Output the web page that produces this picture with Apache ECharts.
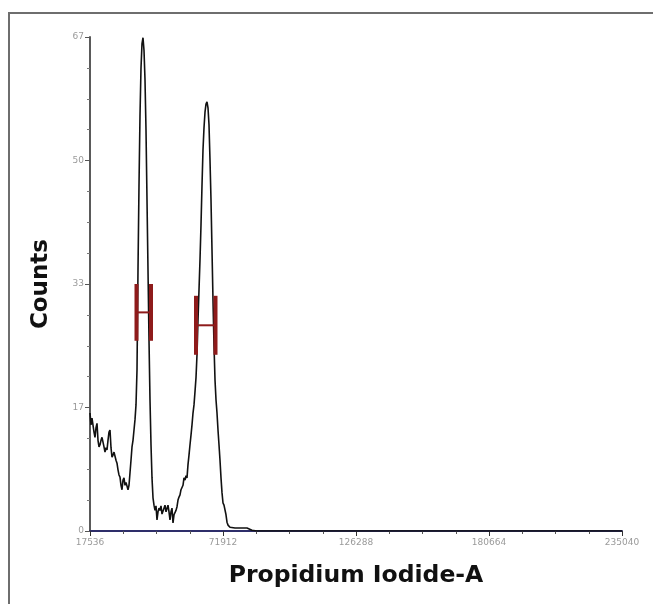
<!DOCTYPE html>
<html>
<head>
<meta charset="utf-8">
<script src="https://cdn.jsdelivr.net/npm/echarts@6/dist/echarts.min.js"></script>
<style>
html,body{margin:0;padding:0;background:#fff;}
#chart{width:653px;height:604px;}
</style>
</head>
<body>
<div id="chart"></div>
<script>
// ---- data ----
const xValues = [
 17536,17945,18354,18763,19172,19580,19989,20398,20807,21216,
 21624,22033,22442,22851,23260,23669,24077,24486,24895,25304,
 25713,26122,26530,26939,27348,27757,28166,28575,28984,29392,
 29801,30210,30619,31028,31437,31845,32254,32663,33072,33481,
 33890,34298,34707,35116,35525,35934,36343,36751,37160,37569,
 37978,38387,38796,39205,39613,40022,40431,40840,41249,41658,
 42066,42475,42884,43293,43702,44111,44519,44928,45337,45746,
 46155,46564,46972,47381,47790,48199,48608,49017,49426,49834,
 50243,50652,51061,51470,51879,52287,52696,53105,53514,53923,
 54332,54740,55149,55558,55967,56376,56785,57193,57602,58011,
 58420,58829,59238,59647,60055,60464,60873,61282,61691,62100,
 62508,62917,63326,63735,64144,64553,64961,65370,65779,66188,
 66597,67006,67414,67823,68232,68641,69050,69459,69868,70276,
 70685,71094,71503,71912,72321,72729,73138,73547,73956,74774,
 76818,78862,81724,83768,85812,235040
];
const counts = [
 16.0,14.4,15.3,15.1,13.4,12.7,14.0,14.6,12.3,11.4,
 11.7,12.3,12.7,12.7,11.4,10.7,11.3,11.0,12.3,13.4,
 13.7,11.3,10.0,10.3,10.7,10.6,9.6,9.2,8.3,7.6,
 7.3,6.2,5.6,6.9,7.2,6.2,6.6,6.5,5.6,6.2,
 7.9,9.6,11.4,12.3,13.7,15.1,17.1,21.8,35.4,46.9,
 56.4,62.8,66.1,66.9,65.2,61.2,54.4,44.9,35.4,25.9,
 17.8,11.7,7.2,4.5,3.5,2.8,3.4,1.5,2.6,3.1,
 2.8,3.4,2.3,2.2,3.1,3.5,2.6,2.8,3.5,2.6,
 1.5,2.6,3.1,1.1,2.2,2.2,2.8,3.3,4.2,4.6,
 4.9,5.6,5.8,6.2,7.2,6.9,7.5,7.2,9.0,10.3,
 11.7,13.0,14.4,16.0,17.1,18.9,20.8,23.9,28.6,32.7,
 36.8,41.5,46.9,51.7,54.7,56.8,57.9,58.2,57.4,55.1,
 50.3,44.9,38.1,31.3,25.2,20.5,17.8,16.0,13.7,11.7,
 9.6,7.2,5.2,3.8,3.5,3.3,2.2,1.2,0.8,0.5,
 0.4,0.4,0.4,0.1,0,0
];
const xTickValues = [17536, 71912, 126288, 180664, 235040];
const xTickLabels = ['17536', '71912', '126288', '180664', '235040'];
const yTickLabels = ['0', '17', '33', '50', '67'];
const yMax = 67;
// gates (marker regions)
const gateLeft  = [36547, 60873];
const gateRight = [42475, 68845];
const gateLow   = [25.8, 23.9];
const gateHigh  = [33.5, 31.9];

// ---- build ----
const curve = xValues.map((x, i) => [x, counts[i]]);
const gates = gateLeft.map((l, i) => [l, gateRight[i], gateLow[i], gateHigh[i]]);
const xMinor = [];
for (let i = 0; i < xTickValues.length - 1; i++) {
  const step = (xTickValues[i + 1] - xTickValues[i]) / 4;
  for (let k = 1; k < 4; k++) xMinor.push(xTickValues[i] + step * k);
}
const yStep = yMax / 4;

const chart = echarts.init(document.getElementById('chart'), null, {renderer: 'canvas'});
chart.setOption({
  backgroundColor: '#ffffff',
  animation: false,
  graphic: [
    {type: 'line', shape: {x1: 9, y1: 13, x2: 653, y2: 13}, style: {stroke: '#6e6e6e', lineWidth: 2}},
    {type: 'line', shape: {x1: 9, y1: 12, x2: 9, y2: 604}, style: {stroke: '#6e6e6e', lineWidth: 2}}
  ],
  grid: {left: 90, right: 31, top: 37, bottom: 73, containLabel: false},
  xAxis: [{
    type: 'value',
    min: xTickValues[0],
    max: xTickValues[xTickValues.length - 1],
    position: 'bottom',
    name: 'Propidium Iodide-A',
    nameLocation: 'middle',
    nameGap: 33,
    nameTextStyle: {fontFamily: 'DejaVu Sans', fontWeight: 'bold', fontSize: 23.5, color: '#111'},
    axisLine: {show: true, lineStyle: {color: '#2e2e6a', width: 2}},
    axisTick: {show: true, customValues: xTickValues, length: 5, lineStyle: {color: '#333', width: 1}},
    axisLabel: {
      show: true, customValues: xTickValues, color: '#9a9a9a', fontSize: 9,
      fontFamily: 'DejaVu Sans', margin: 7,
      formatter: v => { const i = xTickValues.indexOf(v); return i >= 0 ? xTickLabels[i] : ''; }
    },
    splitLine: {show: false}
  }, {
    type: 'value',
    min: xTickValues[0],
    max: xTickValues[xTickValues.length - 1],
    position: 'bottom',
    offset: 0,
    axisLine: {show: false},
    axisTick: {show: true, customValues: xMinor, length: 3, lineStyle: {color: '#555', width: 1}},
    axisLabel: {show: false},
    splitLine: {show: false}
  }],
  yAxis: {
    type: 'value',
    min: 0,
    max: yMax,
    interval: yStep,
    name: 'Counts',
    nameLocation: 'middle',
    nameGap: 37,
    nameTextStyle: {fontFamily: 'DejaVu Sans', fontWeight: 'bold', fontSize: 23, color: '#111'},
    axisLine: {show: true, lineStyle: {color: '#5a5a5a', width: 2}},
    axisTick: {show: true, length: 5, lineStyle: {color: '#555', width: 1}},
    minorTick: {show: true, splitNumber: 4, length: 3, lineStyle: {color: '#777', width: 1}},
    axisLabel: {
      color: '#9a9a9a', fontSize: 9, fontFamily: 'DejaVu Sans', margin: 6,
      formatter: v => yTickLabels[Math.round(v / yStep)]
    },
    splitLine: {show: false}
  },
  series: [{
    type: 'line',
    xAxisIndex: 0,
    data: curve,
    showSymbol: false,
    symbol: 'none',
    lineStyle: {color: '#111', width: 1.6},
    z: 3
  }, {
    type: 'custom',
    xAxisIndex: 0,
    data: gates,
    z: 4,
    renderItem: (params, api) => {
      const pL = api.coord([api.value(0), api.value(2)]);
      const pLt = api.coord([api.value(0), api.value(3)]);
      const pR = api.coord([api.value(1), api.value(2)]);
      const pRt = api.coord([api.value(1), api.value(3)]);
      const midY = (pL[1] + pLt[1]) / 2;
      const st = {stroke: '#8e1b1b', lineWidth: 4};
      return {
        type: 'group',
        children: [
          {type: 'line', shape: {x1: pL[0], y1: pL[1], x2: pLt[0], y2: pLt[1]}, style: st},
          {type: 'line', shape: {x1: pR[0], y1: pR[1], x2: pRt[0], y2: pRt[1]}, style: st},
          {type: 'line', shape: {x1: pL[0], y1: midY, x2: pR[0], y2: midY}, style: {stroke: '#8e1b1b', lineWidth: 2}}
        ]
      };
    }
  }]
});
</script>
</body>
</html>
